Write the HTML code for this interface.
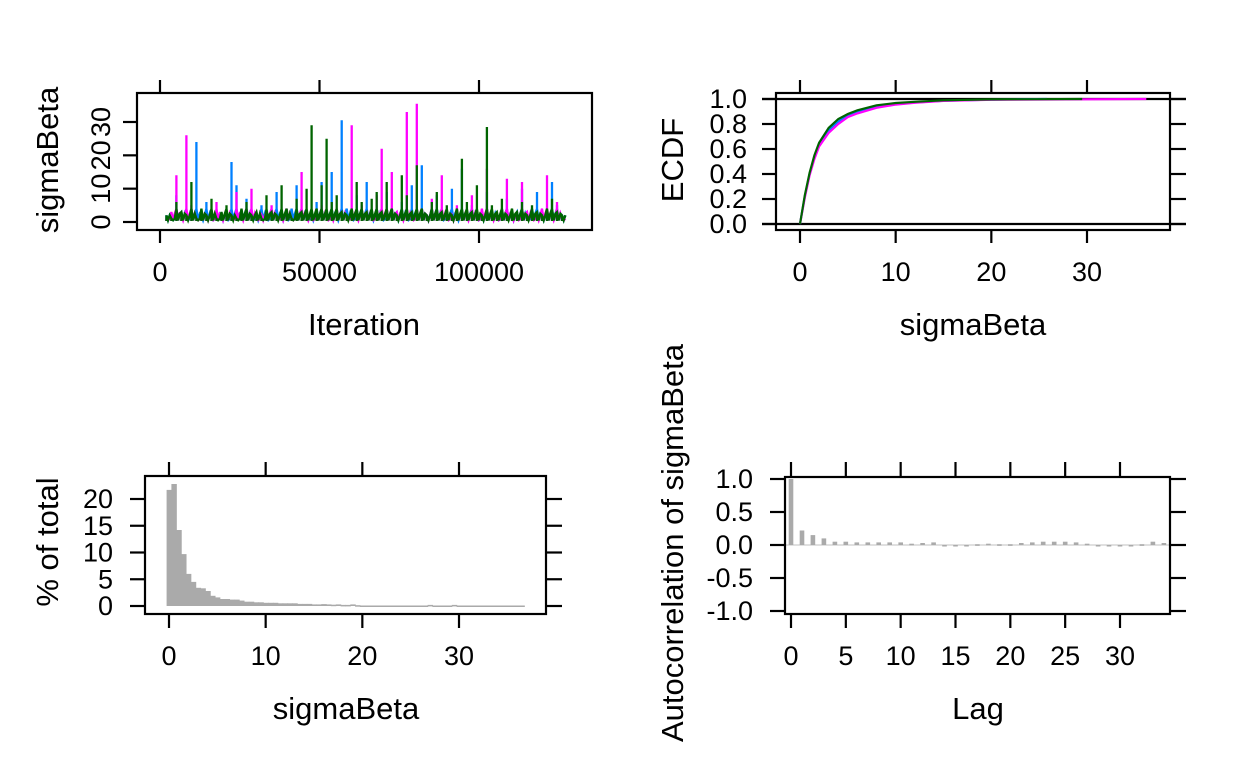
<!DOCTYPE html>
<html><head><meta charset="utf-8">
<style>
html,body{margin:0;padding:0;background:#fff;}
svg{display:block;font-family:"Liberation Sans",Arial,sans-serif;}
</style></head>
<body>
<svg id="chart" width="1248" height="768" viewBox="0 0 1248 768" xmlns="http://www.w3.org/2000/svg"></svg>
<script>
// ---- trace plot data ----
const traceIterStart = 2000;
const traceIterStep = 1570;
const traceBlue = [2,1,8,3,1,4,24,2,6,1,3,2,1,18,11,3,7,1,2,5,1,3,9,2,1,4,11,3,1,2,6,12,3,15,2,30.5,4,1,8,3,12,2,5,1,9,4,2,6,1,11,3,17,2,4,8,1,3,10,2,16,3,5,1,2,9,3,1,4,7,2,3,10,1,4,9,2,3,12,5,2];
const traceMagenta = [1,3,14,2,26,5,1,3,2,1,6,2,3,1,9,2,4,10,1,2,3,5,1,2,4,1,3,15,2,1,3,5,1,2,4,3,1,29,2,5,3,1,8,22,4,15,3,2,33,1,35.5,4,2,7,3,14,1,2,5,3,2,8,1,4,16,2,1,3,13,2,1,12,3,1,2,4,14,2,6,1];
const traceGreen = [2,1,6,3,2,12,1,4,2,7,1,3,5,2,1,4,6,2,3,1,8,3,2,11,4,1,7,3,10,29,4,11,25,6,8,3,2,4,12,6,3,7,9,3,12,4,2,14,8,3,17,4,2,6,9,3,5,2,4,19,6,3,11,2,28.5,5,3,7,2,4,3,6,2,5,3,2,4,7,3,2];
const traceXTicks = [0,50000,100000];
const traceXTickLabels = ["0","50000","100000"];
const traceYTicks = [0,10,20,30];
// ---- ECDF data ----
const ecdfX = [0,0.5,1,1.5,2,3,4,5,6,8,10,12,15,20];
const ecdfBlue = [0,0.22,0.40,0.53,0.63,0.75,0.82,0.865,0.895,0.935,0.958,0.972,0.986,0.995];
const ecdfMagenta = [0,0.21,0.39,0.52,0.62,0.73,0.80,0.855,0.885,0.93,0.955,0.97,0.985,0.994];
const ecdfGreen = [0,0.23,0.41,0.55,0.65,0.77,0.84,0.88,0.91,0.95,0.968,0.978,0.99,0.997];
const ecdfMax = [25.8,36.2,29.5];
const ecdfXTicks = [0,10,20,30];
const ecdfYTicks = [0,0.2,0.4,0.6,0.8,1.0];
// ---- histogram data ----
const histStart = -0.25;
const histWidth = 0.5;
const histPct = [21.7,22.8,14.2,9.7,6.0,4.5,3.4,3.3,2.8,1.9,1.6,1.3,1.3,1.2,1.2,1.0,0.8,0.8,0.7,0.7,0.6,0.6,0.6,0.5,0.5,0.5,0.5,0.4,0.4,0.4,0.3,0.3,0.35,0.3,0.25,0.3,0.2,0.2,0.3,0.15,0.1,0.1,0.1,0.1,0.1,0.1,0.1,0.1,0.1,0.1,0.1,0.1,0.1,0.1,0.2,0.1,0.1,0.1,0.1,0.2,0.1,0.1,0.1,0.1,0.1,0.1,0.1,0.1,0.1,0.1,0.1,0.1,0.1,0.1];
const histXTicks = [0,10,20,30];
const histYTicks = [0,5,10,15,20];
// ---- autocorrelation data ----
const acfVals = [1.0,0.22,0.15,0.10,0.05,0.05,0.04,0.04,0.04,0.04,0.04,0.02,0.03,0.04,-0.01,-0.02,0.0,0.01,0.02,0.01,0.01,0.03,0.04,0.05,0.05,0.05,0.04,0.02,-0.02,-0.01,-0.01,-0.02,0.01,0.05,0.03];
const acfXTicks = [0,5,10,15,20,25,30];
const acfYTicks = [-1,-0.5,0,0.5,1];
const acfYTickLabels = ["-1.0","-0.5","0.0","0.5","1.0"];

const NS = "http://www.w3.org/2000/svg";
const svg = document.getElementById("chart");
function mk(tag, attrs, parent){
  const e = document.createElementNS(NS, tag);
  for (const k in attrs) e.setAttribute(k, attrs[k]);
  (parent||svg).appendChild(e);
  return e;
}
function lin(d0,d1,r0,r1){ return v => r0 + (v-d0)*(r1-r0)/(d1-d0); }
const TICK = 27, TITLE = 31;

function frame(g, x0,y0,x1,y1){
  const r = mk("rect",{x:x0,y:y0,width:x1-x0,height:y1-y0,fill:"none",stroke:"#000","stroke-width":2.2},g);
  
  
}
function line(g,x1,y1,x2,y2,c,w){ return mk("line",{x1,y1,x2,y2,stroke:c||"#000","stroke-width":w||2.2},g); }
function text(g,x,y,s,size,anchor,rot,name){
  const a = {x,y,"font-size":size+"px","text-anchor":anchor||"middle",fill:"#000"};
  if (rot) a.transform = `rotate(-90 ${x} ${y})`;
  const t = mk("text",a,g); t.textContent = s;
  
  
  return t;
}

// ================= Panel 1: trace =================
(function(){
  const g = mk("g",{});  
  const X0=137,X1=592,Y0=93,Y1=230;
  const sx = lin(0,100000,160,479), sy = lin(0,30,222,122);
  const series = [[traceBlue,"#0080ff","trace-chain-1"],[traceMagenta,"#ff00ff","trace-chain-2"],[traceGreen,"#006400","trace-chain-3"]];
  series.forEach(([vals,col,name])=>{
    let d = "";
    vals.forEach((v,i)=>{
      const x0 = sx(traceIterStart+i*traceIterStep);
      d += "M"+x0.toFixed(1)+","+sy(0.3).toFixed(1)+" L"+x0.toFixed(1)+","+sy(v).toFixed(1)+" ";
    });
    // dense low band
    let pts = [];
    vals.forEach((v,i)=>{
      const x0 = sx(traceIterStart+i*traceIterStep), x1 = sx(traceIterStart+(i+1)*traceIterStep);
      const lo = Math.min(v,4);
      pts.push(x0.toFixed(1)+","+sy(lo).toFixed(1));
      pts.push(((2*x0+x1)/3).toFixed(1)+","+sy(0.5).toFixed(1));
      pts.push(((x0+2*x1)/3).toFixed(1)+","+sy(Math.min(lo,2.5)).toFixed(1));
    });
    d += "M"+pts.join(" L");
    const p = mk("path",{d:d,fill:"none",stroke:col,"stroke-width":2.3},g);
    
    
  });
  frame(g,X0,Y0,X1,Y1);
  traceXTicks.forEach((t,i)=>{
    const x=sx(t);
    line(g,x,80,x,Y0); line(g,x,Y1,x,243);
    text(g,x,281,traceXTickLabels[i],TICK,"middle",false,"x-tick-label");
  });
  traceYTicks.forEach(t=>{
    const y=sy(t); line(g,123,y,X0,y);
    text(g,110,y,String(t),TICK,"middle",true,"y-tick-label");
  });
  text(g,364,335,"Iteration",TITLE,"middle",false,"x-axis-title");
  text(g,58,160,"sigmaBeta",TITLE,"middle",true,"y-axis-title");
})();

// ================= Panel 2: ECDF =================
(function(){
  const g = mk("g",{});  
  const X0=776,X1=1170,Y0=93,Y1=230;
  const sx = lin(0,30,800,1087), sy = lin(0,1,224,99);
  line(g,762,sy(0),1186,sy(0)); line(g,762,sy(1),1186,sy(1));
  const series=[[ecdfBlue,"#0080ff",ecdfMax[0],"ecdf-chain-1"],[ecdfMagenta,"#ff00ff",ecdfMax[1],"ecdf-chain-2"],[ecdfGreen,"#006400",ecdfMax[2],"ecdf-chain-3"]];
  series.forEach(([vals,col,mx,name])=>{
    let pts = ecdfX.map((x,i)=>sx(x).toFixed(1)+","+sy(vals[i]).toFixed(1));
    pts.push(sx(mx).toFixed(1)+","+sy(1).toFixed(1));
    const p = mk("polyline",{points:pts.join(" "),fill:"none",stroke:col,"stroke-width":2.2},g);
    
    
  });
  frame(g,X0,Y0,X1,Y1);
  ecdfXTicks.forEach(t=>{
    const x=sx(t); line(g,x,80,x,Y0); line(g,x,Y1,x,243);
    text(g,x,281,String(t),TICK,"middle",false,"x-tick-label");
  });
  ecdfYTicks.forEach(t=>{
    const y=sy(t); line(g,762,y,X0,y); line(g,X1,y,1186,y);
    text(g,747,y+9,t.toFixed(1),TICK,"end",false,"y-tick-label");
  });
  text(g,973,335,"sigmaBeta",TITLE,"middle",false,"x-axis-title");
  text(g,683,160,"ECDF",TITLE,"middle",true,"y-axis-title");
})();

// ================= Panel 3: histogram =================
(function(){
  const g = mk("g",{});  
  const X0=145,X1=546,Y0=476,Y1=614;
  const sx = lin(0,30,169,459), sy = lin(0,20,606,499);
  histPct.forEach((v,i)=>{
    const a=sx(histStart+i*histWidth), b=sx(histStart+(i+1)*histWidth);
    const r = mk("rect",{x:a.toFixed(1),y:sy(v).toFixed(1),width:(b-a+0.6).toFixed(2),height:Math.max(1.5,sy(0)-sy(v)).toFixed(1),fill:"#aaaaaa"},g);
    
    
  });
  frame(g,X0,Y0,X1,Y1);
  histXTicks.forEach(t=>{
    const x=sx(t); line(g,x,462,x,Y0); line(g,x,Y1,x,628);
    text(g,x,665,String(t),TICK,"middle",false,"x-tick-label");
  });
  histYTicks.forEach(t=>{
    const y=sy(t); line(g,130,y,X0,y); line(g,X1,y,562,y);
    text(g,113,y+9,String(t),TICK,"end",false,"y-tick-label");
  });
  text(g,346,719,"sigmaBeta",TITLE,"middle",false,"x-axis-title");
  text(g,58,542,"% of total",TITLE,"middle",true,"y-axis-title");
})();

// ================= Panel 4: autocorrelation =================
(function(){
  const g = mk("g",{});  
  const X0=785,X1=1170,Y0=477,Y1=614;
  const sx = lin(0,30,791,1120), sy = lin(-1,1,611,479);
  line(g,X0,sy(0),X1,sy(0),"#e0e0e0",2);
  acfVals.forEach((v,i)=>{
    const x=sx(i), y0=sy(0), y=sy(v);
    const r = mk("rect",{x:(x-2.3).toFixed(1),y:Math.min(y,y0).toFixed(1),width:4.6,height:Math.max(1.5,Math.abs(y0-y)).toFixed(1),fill:"#aaaaaa"},g);
    
    
  });
  frame(g,X0,Y0,X1,Y1);
  acfXTicks.forEach(t=>{
    const x=sx(t); line(g,x,462,x,Y0); line(g,x,Y1,x,628);
    text(g,x,665,String(t),TICK,"middle",false,"x-tick-label");
  });
  acfYTicks.forEach((t,i)=>{
    const y=sy(t); line(g,770,y,X0,y); line(g,X1,y,1186,y);
    text(g,753,y+9,acfYTickLabels[i],TICK,"end",false,"y-tick-label");
  });
  text(g,978,719,"Lag",TITLE,"middle",false,"x-axis-title");
  text(g,683,543,"Autocorrelation of sigmaBeta",TITLE,"middle",true,"y-axis-title");
})();
</script>
</body></html>
